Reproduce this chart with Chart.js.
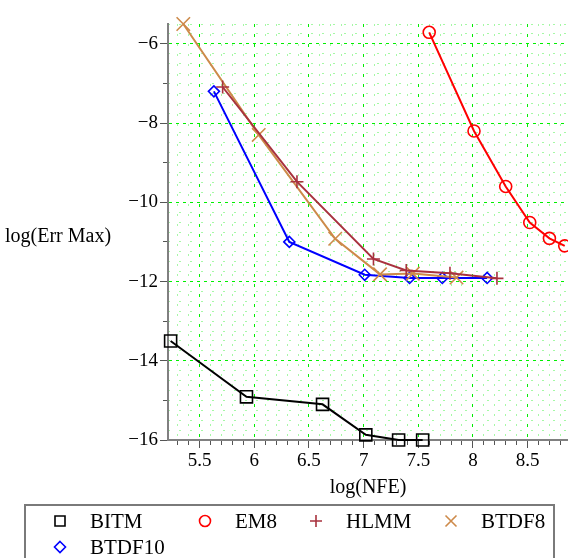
<!DOCTYPE html>
<html><head><meta charset="utf-8">
<script src="https://cdn.jsdelivr.net/npm/chart.js@4.4.1/dist/chart.umd.min.js"></script>
<style>html,body{margin:0;padding:0;background:#fff}#wrap{width:568px;height:558px}</style>
</head><body><div id="wrap"><canvas id="c" width="568" height="558"></canvas></div>
<script>
const seriesNames = ['BITM', 'EM8', 'HLMM', 'BTDF8', 'BTDF10'];
const bitmX = [5.234, 5.928, 6.624, 7.02, 7.32, 7.54];
const bitmY = [-13.5, -14.91, -15.10, -15.87, -16.0, -16.0];
const em8X = [7.60, 8.01, 8.30, 8.52, 8.70, 8.84];
const em8Y = [-5.71, -8.20, -9.60, -10.51, -10.91, -11.10];
const hlmmX = [5.71, 6.39, 7.09, 7.39, 7.79, 8.22];
const hlmmY = [-7.09, -9.48, -11.43, -11.72, -11.79, -11.92];
const btdf8X = [5.35, 6.04, 6.74, 7.15, 7.45, 7.85];
const btdf8Y = [-5.5, -8.30, -10.92, -11.82, -11.80, -11.90];
const btdf10X = [5.63, 6.32, 7.01, 7.42, 7.72, 8.13];
const btdf10Y = [-7.20, -11.00, -11.83, -11.91, -11.91, -11.91];
const xTickValues = [5.5, 6, 6.5, 7, 7.5, 8, 8.5];
const yTickValues = [-16, -14, -12, -10, -8, -6];
const xTitle = 'log(NFE)';
const yTitle = 'log(Err Max)';

const pts = (xs, ys) => xs.map((x, i) => ({x: x, y: ys[i]}));
const fmt = v => (v < 0 ? '\u2212' + Math.abs(v) : String(v));
const FONT = 'Liberation Serif';
const TR = 'rgba(0,0,0,0)';
const MAJOR = '#00f000';
const MINOR = '#a6f8a6';

const styles = [
  {color: '#000000', pointStyle: 'rect', r: 8.5},
  {color: '#ff0000', pointStyle: 'circle', r: 6},
  {color: '#a8323e', pointStyle: 'cross', r: 6.5},
  {color: '#cd8a4a', pointStyle: 'crossRot', r: 9.5},
  {color: '#0000ff', pointStyle: 'rectRot', r: 5.5}
];
const seriesData = [pts(bitmX, bitmY), pts(em8X, em8Y), pts(hlmmX, hlmmY), pts(btdf8X, btdf8Y), pts(btdf10X, btdf10Y)];

const datasets = seriesNames.map((name, i) => ({
  label: name,
  data: seriesData[i],
  showLine: true,
  borderColor: styles[i].color,
  backgroundColor: TR,
  borderWidth: 2,
  tension: 0,
  pointStyle: styles[i].pointStyle,
  pointRadius: styles[i].r,
  pointBorderWidth: 1.6,
  pointBorderColor: styles[i].color,
  pointBackgroundColor: TR,
  clip: false
}));

const yTitlePlugin = {
  id: 'yTitle',
  afterDraw(chart) {
    const ctx = chart.ctx;
    ctx.save();
    ctx.font = '20px "' + FONT + '"';
    ctx.fillStyle = '#000';
    ctx.textAlign = 'left';
    ctx.textBaseline = 'middle';
    ctx.fillText(yTitle, 5, 237);
    ctx.restore();
  }
};

const legendPos = [[60, 521], [205, 521], [316, 521], [451, 521], [60, 547]];
function drawMarker(ctx, style, x, y, color) {
  ctx.save();
  ctx.strokeStyle = color;
  ctx.lineWidth = 1.6;
  ctx.beginPath();
  const s = 5.5;
  if (style === 'rect') { ctx.rect(x - 5, y - 5, 10, 10); }
  else if (style === 'circle') { ctx.arc(x, y, 5.5, 0, Math.PI * 2); }
  else if (style === 'cross') { ctx.moveTo(x - 6, y); ctx.lineTo(x + 6, y); ctx.moveTo(x, y - 6); ctx.lineTo(x, y + 6); }
  else if (style === 'crossRot') { ctx.moveTo(x - s, y - s); ctx.lineTo(x + s, y + s); ctx.moveTo(x - s, y + s); ctx.lineTo(x + s, y - s); }
  else if (style === 'rectRot') { ctx.moveTo(x, y - 5.5); ctx.lineTo(x + 5.5, y); ctx.lineTo(x, y + 5.5); ctx.lineTo(x - 5.5, y); ctx.closePath(); }
  ctx.stroke();
  ctx.restore();
}
const legendPlugin = {
  id: 'boxLegend',
  afterDraw(chart) {
    const ctx = chart.ctx;
    ctx.save();
    ctx.strokeStyle = '#7a7a7a';
    ctx.lineWidth = 2;
    ctx.strokeRect(25, 505, 529, 62);
    ctx.font = '21px "' + FONT + '"';
    ctx.fillStyle = '#000';
    ctx.textAlign = 'left';
    ctx.textBaseline = 'middle';
    chart.data.datasets.forEach((ds, i) => {
      const p = legendPos[i];
      drawMarker(ctx, ds.pointStyle, p[0], p[1], ds.borderColor);
      ctx.fillText(ds.label, p[0] + 30, p[1] + 1);
    });
    ctx.restore();
  }
};

const noPadH = s => { s.paddingLeft = 0; s.paddingRight = 0; };
const noPadV = s => { s.paddingTop = 0; s.paddingBottom = 0; };

new Chart(document.getElementById('c'), {
  type: 'scatter',
  data: {datasets: datasets},
  plugins: [yTitlePlugin, legendPlugin],
  options: {
    responsive: false,
    animation: false,
    devicePixelRatio: 1,
    layout: {autoPadding: false, padding: {left: 0, right: 0, top: 24, bottom: 56}},
    plugins: {legend: {display: false}, tooltip: {enabled: false}},
    scales: {
      x: {
        type: 'linear', position: 'bottom', min: 5.21, max: 8.87, weight: 0,
        afterBuildTicks: s => { s.ticks = xTickValues.map(v => ({value: v})); },
        afterFit: s => { s.height = 62; noPadH(s); },
        grid: {color: MAJOR, lineWidth: 1, drawTicks: true, tickLength: 8, tickColor: '#555', tickWidth: 1},
        border: {display: true, color: '#808080', width: 2, dash: [3, 7]},
        ticks: {font: {family: FONT, size: 19}, color: '#000', padding: 2, maxRotation: 0, autoSkip: false, callback: v => fmt(v)},
        title: {display: true, text: xTitle, font: {family: FONT, size: 20}, color: '#000', padding: {top: 0, bottom: 2}}
      },
      xm: {
        type: 'linear', position: 'bottom', min: 5.21, max: 8.87, weight: -1,
        afterBuildTicks: s => { const t = []; for (let k = 53; k <= 88; k++) t.push({value: k / 10}); s.ticks = t; },
        afterFit: s => { s.height = 0; noPadH(s); },
        grid: {color: c => (c.tick && Math.round(c.tick.value * 10) % 5 === 0) ? TR : MINOR, lineWidth: 1, drawTicks: true, tickLength: 5, tickColor: '#555', tickWidth: 1},
        border: {display: false, dash: [2, 8]},
        ticks: {display: false}
      },
      y: {
        type: 'linear', position: 'left', min: -16, max: -5.5, weight: 0,
        afterBuildTicks: s => { s.ticks = yTickValues.map(v => ({value: v})); },
        afterFit: s => { s.width = 168; noPadV(s); },
        grid: {color: MAJOR, lineWidth: 1, drawTicks: true, tickLength: 8, tickColor: '#555', tickWidth: 1},
        border: {display: true, color: '#808080', width: 2, dash: [3, 4]},
        ticks: {font: {family: FONT, size: 19}, color: '#000', padding: 2, autoSkip: false, callback: v => fmt(v)}
      },
      ym: {
        type: 'linear', position: 'left', min: -16, max: -5.5, weight: -1,
        afterBuildTicks: s => { const t = []; for (let k = -64; k <= -22; k++) t.push({value: k / 4}); s.ticks = t; },
        afterFit: s => { s.width = 0; noPadV(s); },
        grid: {
          color: c => (c.tick && Math.abs(c.tick.value % 2) < 1e-9) ? TR : MINOR,
          lineWidth: 1, drawTicks: true, tickLength: 5, tickWidth: 1,
          tickColor: c => (c.tick && Number.isInteger(c.tick.value)) ? '#555' : TR
        },
        border: {display: false, dash: [2, 9]},
        ticks: {display: false}
      }
    }
  }
});
</script>
</body></html>
